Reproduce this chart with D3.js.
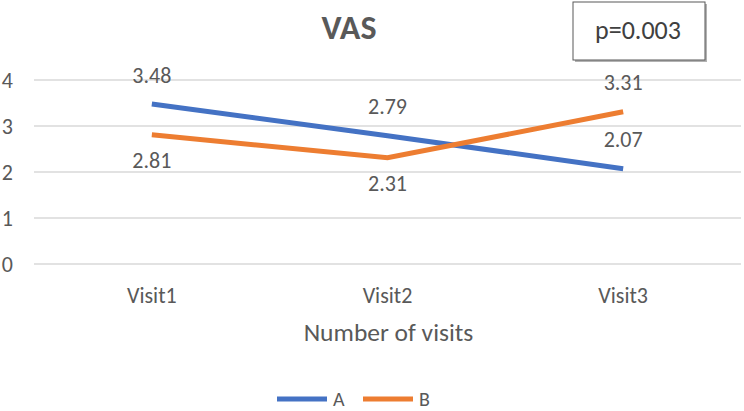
<!DOCTYPE html>
<html lang="en">
<head>
<meta charset="UTF-8">
<title>VAS</title>
<style>
  body { margin: 0; background: #fff; }
  svg text { font-family: Carlito, Lato, "Liberation Sans", Arial, sans-serif; fill: #595959; }
  .grid line { stroke: #d9d9d9; stroke-width: 1.3px; }
  .line { fill: none; stroke-width: 5px; }
</style>
</head>
<body>
<script src="https://cdn.jsdelivr.net/npm/d3@7"></script>
<script>
const visits = ['Visit1', 'Visit2', 'Visit3']
const seriesA = [3.48, 2.79, 2.07]
const seriesB = [2.81, 2.31, 3.31]
const yTicks = [0, 1, 2, 3, 4]
const series = [
  { name: 'A', values: seriesA, color: '#4472C4', labelPos: ['above', 'above', 'above'] },
  { name: 'B', values: seriesB, color: '#ED7D31', labelPos: ['below', 'below', 'above'] }
]

const width = 744
const height = 411
const margin = { top: 80, right: 3, bottom: 147, left: 34 }

const svg = d3.select('body').append('svg')
  .attr('width', width)
  .attr('height', height)

const x = d3.scaleBand()
  .domain(visits)
  .range([margin.left, width - margin.right])

const y = d3.scaleLinear()
  .domain([0, 4])
  .range([height - margin.bottom, margin.top])

// gridlines
svg.append('g')
  .attr('class', 'grid')
  .selectAll('line')
  .data(yTicks)
  .join('line')
  .attr('x1', margin.left)
  .attr('x2', width - margin.right)
  .attr('y1', d => y(d))
  .attr('y2', d => y(d))

// y tick labels
svg.append('g')
  .selectAll('text')
  .data(yTicks)
  .join('text')
  .attr('x', 13)
  .attr('y', d => y(d))
  .attr('dy', '0.35em')
  .attr('text-anchor', 'end')
  .style('font-size', '22px')
  .text(d => d)

// x tick labels
svg.append('g')
  .selectAll('text')
  .data(visits)
  .join('text')
  .attr('x', d => x(d) + x.bandwidth() / 2)
  .attr('y', 295)
  .attr('dy', '0.35em')
  .attr('text-anchor', 'middle')
  .style('font-size', '22px')
  .text(d => d)

// axis title
svg.append('text')
  .attr('x', x(visits[1]) + x.bandwidth() / 2 + 1)
  .attr('y', 332)
  .attr('dy', '0.35em')
  .attr('text-anchor', 'middle')
  .style('font-size', '25.5px')
  .text('Number of visits')

// chart title
svg.append('text')
  .attr('x', 349)
  .attr('y', 27)
  .attr('dy', '0.35em')
  .attr('text-anchor', 'middle')
  .style('font-size', '34px')
  .style('font-weight', 'bold')
  .text('VAS')

// lines
const line = d3.line()
  .x((d, i) => x(visits[i]) + x.bandwidth() / 2)
  .y(d => y(d))

series.forEach(s => {
  svg.append('path')
    .attr('class', 'line')
    .attr('stroke', s.color)
    .attr('d', line(s.values))
})

// data labels
series.forEach(s => {
  svg.append('g')
    .selectAll('text')
    .data(s.values)
    .join('text')
    .attr('x', (d, i) => x(visits[i]) + x.bandwidth() / 2)
    .attr('y', (d, i) => s.labelPos[i] === 'above' ? y(d) - 29 : y(d) + 26)
    .attr('dy', '0.35em')
    .attr('text-anchor', 'middle')
    .style('font-size', '22px')
    .text(d => d.toFixed(2))
})

// p-value box
const pBox = svg.append('g').attr('transform', 'translate(573,2)')
pBox.append('rect')
  .attr('x', 2).attr('y', 2)
  .attr('width', 132).attr('height', 58)
  .attr('fill', '#7f7f7f')
  .attr('opacity', 0.6)
pBox.append('rect')
  .attr('width', 132).attr('height', 58)
  .attr('fill', '#fff')
  .attr('stroke', '#595959')
  .attr('stroke-width', 1)
pBox.append('text')
  .attr('x', 65).attr('y', 28)
  .attr('dy', '0.35em')
  .attr('text-anchor', 'middle')
  .style('font-size', '26px')
  .style('fill', '#404040')
  .text('p=0.003')

// legend
const legendX = [277, 363]
const legend = svg.append('g')
  .selectAll('g')
  .data(series)
  .join('g')
  .attr('transform', (d, i) => `translate(${legendX[i]},399)`)
legend.append('line')
  .attr('x1', 0).attr('x2', 50)
  .attr('y1', 0).attr('y2', 0)
  .attr('stroke', d => d.color)
  .attr('stroke-width', 5)
legend.append('text')
  .attr('x', 56)
  .attr('y', 0)
  .attr('dy', '0.35em')
  .style('font-size', '20px')
  .text(d => d.name)
</script>
</body>
</html>
